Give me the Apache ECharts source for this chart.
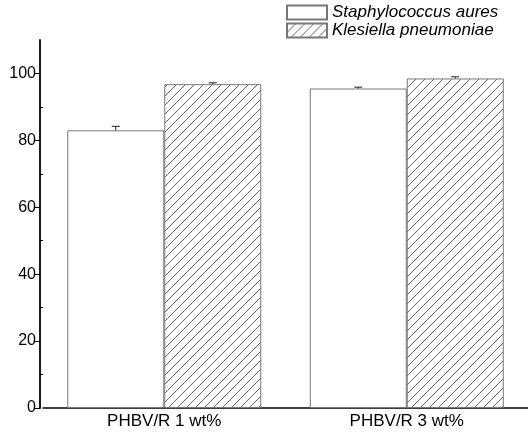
<!DOCTYPE html>
<html><head><meta charset="utf-8">
<script src="https://cdn.jsdelivr.net/npm/echarts@6/dist/echarts.min.js"></script>
<style>html,body{margin:0;padding:0;background:#fff}#c{width:528px;height:436px}</style>
</head><body><div id="c"></div>
<script>
const categories = ['PHBV/R 1 wt%', 'PHBV/R 3 wt%'];
const seriesNames = ['Staphylococcus aures', 'Klesiella pneumoniae'];
const staphValues = [83.0, 95.5];
const staphErrors = [1.2, 0.4];
const klesValues = [96.8, 98.5];
const klesErrors = [0.4, 0.5];
const yTicks = [0, 20, 40, 60, 80, 100];
const yMinorTicks = [10, 30, 50, 70, 90];

function hatch() {
  const s = 9, c = document.createElement('canvas');
  c.width = s; c.height = s;
  const g = c.getContext('2d');
  g.fillStyle = '#fff'; g.fillRect(0, 0, s, s);
  g.strokeStyle = '#666'; g.lineWidth = 1;
  g.beginPath();
  g.moveTo(0, s); g.lineTo(s, 0);
  g.moveTo(-1, 1); g.lineTo(1, -1);
  g.moveTo(s - 1, s + 1); g.lineTo(s + 1, s - 1);
  g.stroke();
  return c;
}

const chart = echarts.init(document.getElementById('c'));
const FONT = 'Liberation Sans, Arial, sans-serif';

function errorSeries(values, errors, side) {
  return {
    type: 'custom',
    xAxisIndex: 0, yAxisIndex: 0,
    silent: true, z: 5,
    data: values.map((v, i) => [i, v, errors[i]]),
    renderItem: function (params, api) {
      const i = api.value(0), v = api.value(1), e = api.value(2);
      const cw = api.size([1, 0])[0];
      const x = api.coord([i, v])[0] + side * cw * 0.2;
      const yt = api.coord([i, v + e])[1];
      const yb = api.coord([i, v])[1];
      const st = { stroke: '#222', lineWidth: 1 };
      return { type: 'group', children: [
        { type: 'line', shape: { x1: x, y1: yt, x2: x, y2: yb }, style: st },
        { type: 'line', shape: { x1: x - 4, y1: yt, x2: x + 4, y2: yt }, style: st }
      ]};
    }
  };
}

chart.setOption({
  backgroundColor: '#fff',
  animation: false,
  grid: { left: 43, right: -1, top: 40, bottom: 28 },
  legend: {
    orient: 'vertical', left: 286, top: 4, itemGap: 1, padding: 0,
    itemWidth: 40, itemHeight: 14, icon: 'rect',
    textStyle: { fontFamily: FONT, fontSize: 17, fontStyle: 'italic', color: '#000' },
    data: seriesNames
  },
  xAxis: [
    { type: 'category', data: categories,
      axisLine: { lineStyle: { color: '#000', width: 1.5 } },
      axisTick: { length: 4, lineStyle: { color: '#000' } },
      axisLabel: { fontFamily: FONT, fontSize: 17, color: '#000', margin: 5 } },
    { type: 'category', data: categories, position: 'bottom',
      axisLine: { show: false },
      axisTick: { alignWithLabel: true, length: 7, lineStyle: { color: '#000', width: 1.5 } },
      axisLabel: { show: false } },
    { type: 'category', data: categories, position: 'bottom',
      axisLine: { show: false },
      axisTick: { alignWithLabel: true, inside: true, length: 7, lineStyle: { color: '#000', width: 1.5 } },
      axisLabel: { show: false } }
  ],
  yAxis: [
    { type: 'value', min: 0, max: 110, interval: 20, offset: 3,
      splitLine: { show: false },
      axisLine: { show: true, lineStyle: { color: '#000', width: 1.8 } },
      axisTick: { show: true, length: 5, customValues: yTicks, lineStyle: { color: '#000' } },
      axisLabel: { customValues: yTicks, fontFamily: FONT, fontSize: 16, color: '#000', margin: 4 } },
    { type: 'value', min: 0, max: 110, position: 'left', offset: 3,
      splitLine: { show: false },
      axisLine: { show: false },
      axisTick: { show: true, inside: true, length: 3, customValues: yMinorTicks, lineStyle: { color: '#000' } },
      axisLabel: { show: false } }
  ],
  series: [
    { name: seriesNames[0], type: 'bar', data: staphValues, barWidth: '40%', barGap: '0%',
      itemStyle: { color: '#fff', borderColor: '#777', borderWidth: 1 } },
    { name: seriesNames[1], type: 'bar', data: klesValues, barWidth: '40%', barGap: '0%',
      itemStyle: { color: { image: hatch(), repeat: 'repeat' }, borderColor: '#777', borderWidth: 1 } },
    errorSeries(staphValues, staphErrors, -1),
    errorSeries(klesValues, klesErrors, 1)
  ]
});
</script></body></html>
